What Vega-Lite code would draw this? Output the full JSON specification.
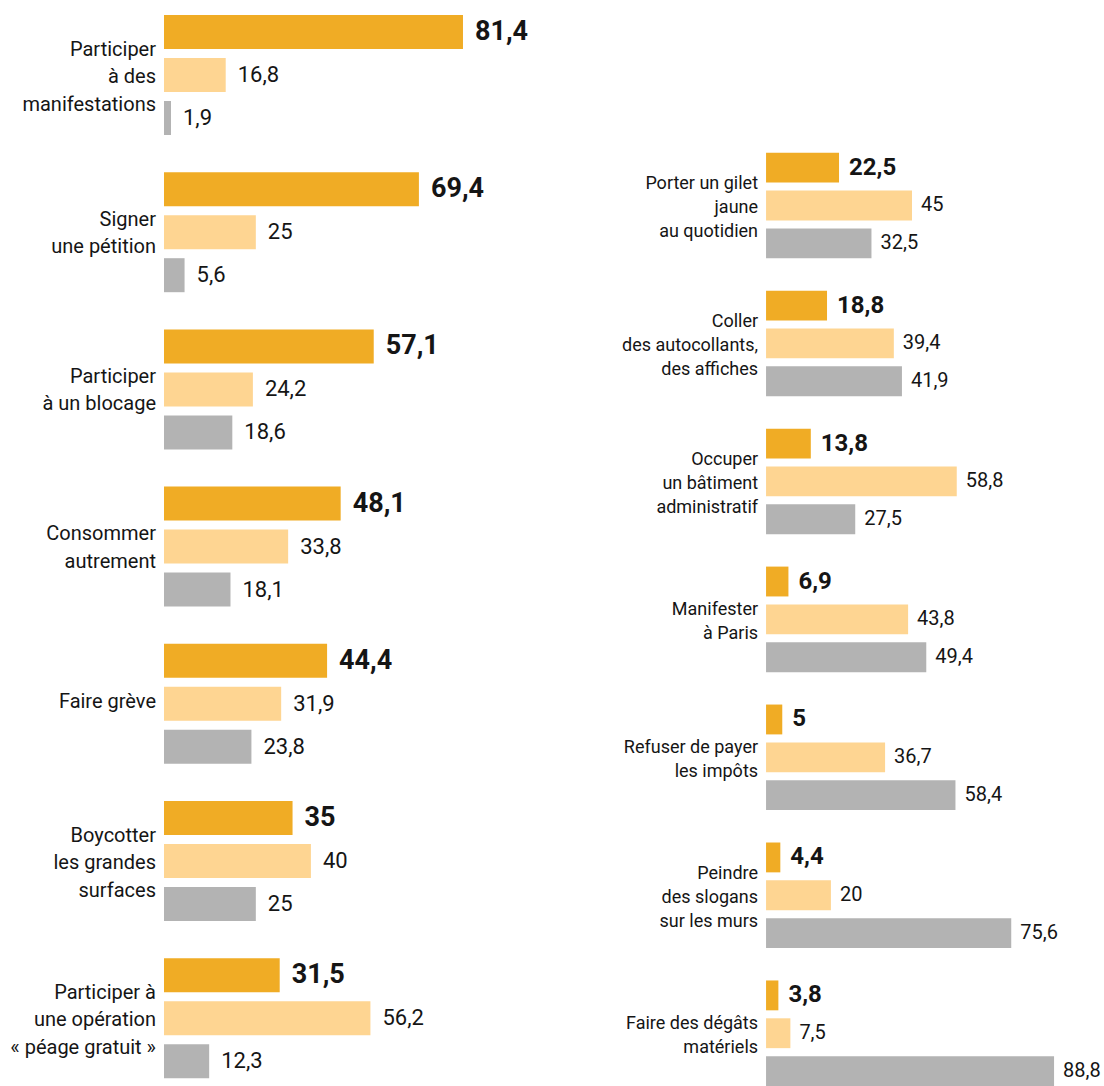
{
  "$schema": "https://vega.github.io/schema/vega-lite/v6.json",
  "width": 1104,
  "height": 1086,
  "padding": 0,
  "autosize": {"type": "none"},
  "background": "white",
  "config": {
    "view": {"stroke": null},
    "locale": {"number": {"decimal": ",", "thousands": "\u00a0", "grouping": [3], "currency": ["", "\u00a0€"]}},
    "text": {"font": "Roboto, sans-serif", "color": "#151515"}
  },
  "datasets": {
    "left": [
      {"cat": "Participer\nà des\nmanifestations", "series": "dark", "value": 81.4},
      {"cat": "Participer\nà des\nmanifestations", "series": "light", "value": 16.8},
      {"cat": "Participer\nà des\nmanifestations", "series": "gray", "value": 1.9},
      {"cat": "Signer\nune pétition", "series": "dark", "value": 69.4},
      {"cat": "Signer\nune pétition", "series": "light", "value": 25},
      {"cat": "Signer\nune pétition", "series": "gray", "value": 5.6},
      {"cat": "Participer\nà un blocage", "series": "dark", "value": 57.1},
      {"cat": "Participer\nà un blocage", "series": "light", "value": 24.2},
      {"cat": "Participer\nà un blocage", "series": "gray", "value": 18.6},
      {"cat": "Consommer\nautrement", "series": "dark", "value": 48.1},
      {"cat": "Consommer\nautrement", "series": "light", "value": 33.8},
      {"cat": "Consommer\nautrement", "series": "gray", "value": 18.1},
      {"cat": "Faire grève", "series": "dark", "value": 44.4},
      {"cat": "Faire grève", "series": "light", "value": 31.9},
      {"cat": "Faire grève", "series": "gray", "value": 23.8},
      {"cat": "Boycotter\nles grandes\nsurfaces", "series": "dark", "value": 35},
      {"cat": "Boycotter\nles grandes\nsurfaces", "series": "light", "value": 40},
      {"cat": "Boycotter\nles grandes\nsurfaces", "series": "gray", "value": 25},
      {"cat": "Participer à\nune opération\n« péage gratuit »", "series": "dark", "value": 31.5},
      {"cat": "Participer à\nune opération\n« péage gratuit »", "series": "light", "value": 56.2},
      {"cat": "Participer à\nune opération\n« péage gratuit »", "series": "gray", "value": 12.3}
    ],
    "right": [
      {"cat": "Porter un gilet\njaune\nau quotidien", "series": "dark", "value": 22.5},
      {"cat": "Porter un gilet\njaune\nau quotidien", "series": "light", "value": 45},
      {"cat": "Porter un gilet\njaune\nau quotidien", "series": "gray", "value": 32.5},
      {"cat": "Coller\ndes autocollants,\ndes affiches", "series": "dark", "value": 18.8},
      {"cat": "Coller\ndes autocollants,\ndes affiches", "series": "light", "value": 39.4},
      {"cat": "Coller\ndes autocollants,\ndes affiches", "series": "gray", "value": 41.9},
      {"cat": "Occuper\nun bâtiment\nadministratif", "series": "dark", "value": 13.8},
      {"cat": "Occuper\nun bâtiment\nadministratif", "series": "light", "value": 58.8},
      {"cat": "Occuper\nun bâtiment\nadministratif", "series": "gray", "value": 27.5},
      {"cat": "Manifester\nà Paris", "series": "dark", "value": 6.9},
      {"cat": "Manifester\nà Paris", "series": "light", "value": 43.8},
      {"cat": "Manifester\nà Paris", "series": "gray", "value": 49.4},
      {"cat": "Refuser de payer\nles impôts", "series": "dark", "value": 5},
      {"cat": "Refuser de payer\nles impôts", "series": "light", "value": 36.7},
      {"cat": "Refuser de payer\nles impôts", "series": "gray", "value": 58.4},
      {"cat": "Peindre\ndes slogans\nsur les murs", "series": "dark", "value": 4.4},
      {"cat": "Peindre\ndes slogans\nsur les murs", "series": "light", "value": 20},
      {"cat": "Peindre\ndes slogans\nsur les murs", "series": "gray", "value": 75.6},
      {"cat": "Faire des dégâts\nmatériels", "series": "dark", "value": 3.8},
      {"cat": "Faire des dégâts\nmatériels", "series": "light", "value": 7.5},
      {"cat": "Faire des dégâts\nmatériels", "series": "gray", "value": 88.8}
    ]
  },
  "layer": [
    {
      "data": {"name": "left"},
      "encoding": {
        "y": {
          "field": "cat", "type": "nominal", "axis": null,
          "scale": {
            "domain": ["Participer\nà des\nmanifestations", "Signer\nune pétition", "Participer\nà un blocage", "Consommer\nautrement", "Faire grève", "Boycotter\nles grandes\nsurfaces", "Participer à\nune opération\n« péage gratuit »"],
            "paddingInner": 0.2366, "paddingOuter": 0.0725, "align": 0.658
          }
        }
      },
      "layer": [
        {
          "mark": {"type": "bar"},
          "encoding": {
            "x": {"field": "value", "type": "quantitative", "axis": null, "stack": null,
                  "scale": {"domain": [-44.65, 255.92], "nice": false, "zero": false}},
            "x2": {"datum": 0},
            "yOffset": {"field": "series", "type": "nominal",
                        "scale": {"domain": ["dark", "light", "gray"], "paddingInner": 0.209, "paddingOuter": 0}},
            "color": {"field": "series", "type": "nominal", "legend": null,
                      "scale": {"domain": ["dark", "light", "gray"], "range": ["#F0AC25", "#FED592", "#B3B3B3"]}}
          }
        },
        {
          "transform": [{"filter": "datum.series === 'dark'"}],
          "mark": {"type": "text", "align": "left", "baseline": "middle", "dx": 12, "fontSize": 27, "fontWeight": "bold"},
          "encoding": {
            "x": {"field": "value", "type": "quantitative"},
            "yOffset": {"field": "series", "type": "nominal"},
            "text": {"field": "value", "type": "quantitative", "format": ".3~r"}
          }
        },
        {
          "transform": [{"filter": "datum.series !== 'dark'"}],
          "mark": {"type": "text", "align": "left", "baseline": "middle", "dx": 12, "fontSize": 22},
          "encoding": {
            "x": {"field": "value", "type": "quantitative"},
            "yOffset": {"field": "series", "type": "nominal"},
            "text": {"field": "value", "type": "quantitative", "format": ".3~r"}
          }
        },
        {
          "transform": [{"filter": "datum.series === 'dark' && length(split(datum.cat, '\\n')) === 1"}],
          "mark": {"type": "text", "align": "right", "baseline": "middle", "dx": -8, "dy": -2, "fontSize": 20, "lineBreak": "\n", "lineHeight": 27.5},
          "encoding": {"x": {"datum": 0}, "text": {"field": "cat", "type": "nominal"}}
        },
        {
          "transform": [{"filter": "datum.series === 'dark' && length(split(datum.cat, '\\n')) === 2"}],
          "mark": {"type": "text", "align": "right", "baseline": "middle", "dx": -8, "dy": -12.5, "fontSize": 20, "lineBreak": "\n", "lineHeight": 27.5},
          "encoding": {"x": {"datum": 0}, "text": {"field": "cat", "type": "nominal"}}
        },
        {
          "transform": [{"filter": "datum.series === 'dark' && length(split(datum.cat, '\\n')) === 3"}],
          "mark": {"type": "text", "align": "right", "baseline": "middle", "dx": -8, "dy": -25.5, "fontSize": 20, "lineBreak": "\n", "lineHeight": 27.5},
          "encoding": {"x": {"datum": 0}, "text": {"field": "cat", "type": "nominal"}}
        }
      ]
    },
    {
      "data": {"name": "right"},
      "encoding": {
        "y": {
          "field": "cat", "type": "nominal", "axis": null,
          "scale": {
            "domain": ["Porter un gilet\njaune\nau quotidien", "Coller\ndes autocollants,\ndes affiches", "Occuper\nun bâtiment\nadministratif", "Manifester\nà Paris", "Refuser de payer\nles impôts", "Peindre\ndes slogans\nsur les murs", "Faire des dégâts\nmatériels"],
            "paddingInner": 0.235, "paddingOuter": 0.5535, "align": 1
          }
        }
      },
      "layer": [
        {
          "mark": {"type": "bar"},
          "encoding": {
            "x": {"field": "value", "type": "quantitative", "axis": null, "stack": null,
                  "scale": {"domain": [-236.2, 104.2], "nice": false, "zero": false}},
            "x2": {"datum": 0},
            "yOffset": {"field": "series", "type": "nominal",
                        "scale": {"domain": ["dark", "light", "gray"], "paddingInner": 0.211, "paddingOuter": 0}},
            "color": {"field": "series", "type": "nominal", "legend": null,
                      "scale": {"domain": ["dark", "light", "gray"], "range": ["#F0AC25", "#FED592", "#B3B3B3"]}}
          }
        },
        {
          "transform": [{"filter": "datum.series === 'dark'"}],
          "mark": {"type": "text", "align": "left", "baseline": "middle", "dx": 10, "fontSize": 24, "fontWeight": "bold"},
          "encoding": {
            "x": {"field": "value", "type": "quantitative"},
            "yOffset": {"field": "series", "type": "nominal"},
            "text": {"field": "value", "type": "quantitative", "format": ".3~r"}
          }
        },
        {
          "transform": [{"filter": "datum.series !== 'dark'"}],
          "mark": {"type": "text", "align": "left", "baseline": "middle", "dx": 9, "fontSize": 20},
          "encoding": {
            "x": {"field": "value", "type": "quantitative"},
            "yOffset": {"field": "series", "type": "nominal"},
            "text": {"field": "value", "type": "quantitative", "format": ".3~r"}
          }
        },
        {
          "transform": [{"filter": "datum.series === 'dark' && length(split(datum.cat, '\\n')) === 2"}],
          "mark": {"type": "text", "align": "right", "baseline": "middle", "dx": -8, "dy": -9, "fontSize": 18, "lineBreak": "\n", "lineHeight": 24},
          "encoding": {"x": {"datum": 0}, "text": {"field": "cat", "type": "nominal"}}
        },
        {
          "transform": [{"filter": "datum.series === 'dark' && length(split(datum.cat, '\\n')) === 3"}],
          "mark": {"type": "text", "align": "right", "baseline": "middle", "dx": -8, "dy": -21, "fontSize": 18, "lineBreak": "\n", "lineHeight": 24},
          "encoding": {"x": {"datum": 0}, "text": {"field": "cat", "type": "nominal"}}
        }
      ]
    }
  ],
  "resolve": {"scale": {"x": "independent", "y": "independent", "yOffset": "independent"}}
}
